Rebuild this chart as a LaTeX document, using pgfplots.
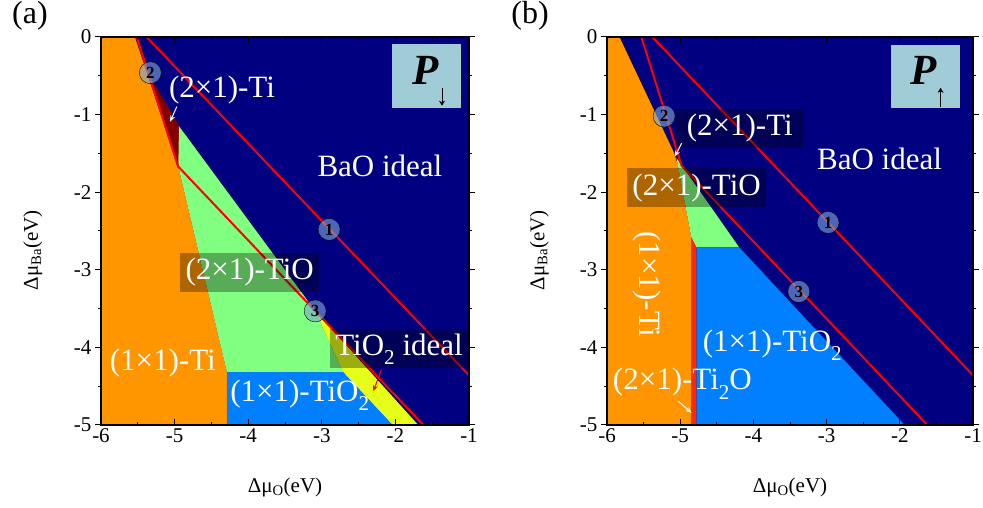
\documentclass[border=0pt]{standalone}
\usepackage{fontspec}
\setmainfont{Liberation Serif}
\usepackage{pgfplots}
\pgfplotsset{compat=1.18}
\usetikzlibrary{arrows.meta}
\definecolor{cnavy}{RGB}{0,0,128}
\definecolor{corange}{RGB}{255,150,0}
\definecolor{cgreen}{RGB}{128,255,128}
\definecolor{cblue}{RGB}{0,128,255}
\definecolor{cyellow}{RGB}{230,255,25}
\definecolor{cdred}{RGB}{128,0,0}
\definecolor{cred}{RGB}{255,0,0}
\definecolor{cstrip}{RGB}{255,40,0}
\definecolor{cbox}{RGB}{160,204,216}
\definecolor{ccirc}{RGB}{125,165,215}
\newcommand\sub[1]{\raisebox{-0.3em}{\scalebox{0.68}{#1}}}
\tikzset{
  lab/.style={text=white, font=\fontsize{31}{31}\selectfont, inner sep=0pt},
  boxlab/.style={text=white, font=\fontsize{31}{31}\selectfont, fill=black, fill opacity=0.32, text opacity=1, inner xsep=5pt, inner ysep=0pt, minimum height=39pt},
}
\pgfplotsset{
  phase/.style={
    scale only axis, height=388pt,
    xmin=-6, xmax=-1, ymin=-5, ymax=0,
    xtick={-6,-5,-4,-3,-2,-1}, ytick={-5,-4,-3,-2,-1,0},
    minor tick num=1,
    xtick align=inside, ytick align=outside,
    major tick length=6pt, minor tick length=3pt,
    tick style={black, line width=1pt},
    axis line style={black, line width=1.2pt},
    axis on top,
    /pgf/number format/assume math mode=true,
    ticklabel style={font=\fontsize{21}{21}\selectfont},
    label style={font=\fontsize{21}{21}\selectfont},
    xlabel={Δμ\textsubscript{O}(eV)},
    ylabel={Δμ\textsubscript{Ba}(eV)},
    xlabel style={at={(axis description cs:0.5,-0.16)}, anchor=center},
    ylabel style={at={(axis description cs:-0.185,0.45)}, anchor=center},
  },
  circ/.style={only marks, mark=*, mark size=11pt,
    mark options={draw=none, fill=ccirc, fill opacity=0.62},
    point meta=explicit symbolic,
    nodes near coords={\fontsize{17}{17}\selectfont\bfseries\pgfplotspointmeta},
    nodes near coords style={anchor=center, text=black, text opacity=1, inner sep=0pt}},
}
\begin{document}
\begin{tikzpicture}
\path[use as bounding box] (0,0) rectangle (983pt,508pt);
\node[font=\fontsize{32}{32}\selectfont] at (30pt,492pt) {(a)};
\node[font=\fontsize{32}{32}\selectfont] at (530pt,492pt) {(b)};
% ---------------- panel (a)
\begin{axis}[phase, width=368pt, at={(101pt,83pt)}, anchor=south west]
\addplot[fill=cnavy, draw=none] coordinates {(-6,0) (-1,0) (-1,-5) (-6,-5)};
\addplot[fill=corange, draw=none] coordinates {(-6,0) (-5.54,0) (-4.95,-1.67) (-4.29,-4.32) (-4.29,-5) (-6,-5)};
\addplot[fill=cdred, draw=none] coordinates {(-5.37,-0.46) (-4.94,-1.15) (-4.94,-1.68) (-4.96,-1.68)};
\addplot[fill=cgreen, draw=none] coordinates {(-4.94,-1.15) (-3.09,-3.53) (-2.71,-4.32) (-4.29,-4.32) (-4.95,-1.67)};
\addplot[fill=cyellow, draw=none] coordinates {(-3.09,-3.53) (-1.69,-5) (-2.04,-5) (-2.71,-4.32)};
\addplot[fill=cblue, draw=none] coordinates {(-4.29,-4.32) (-2.71,-4.32) (-2.04,-5) (-4.29,-5)};
\addplot[cred, line width=2pt] coordinates {(-5.515,0) (-4.95,-1.67) (-1.62,-5)};
\addplot[cred, line width=2pt] coordinates {(-5.38,0) (-1,-4.36)};
\addplot[circ] coordinates {(-2.90,-2.48)[1] (-5.33,-0.46)[2] (-3.09,-3.53)[3]};
\node[lab] at (axis cs:-4.356,-0.682) {(2×1)-Ti};
\node[lab] at (axis cs:-2.21,-1.66) {BaO ideal};
\node[boxlab, minimum width=139pt] at (axis cs:-3.98,-3.03) {(2×1)-TiO};
\node[lab] at (axis cs:-5.16,-4.20) {(1×1)-Ti};
\node[lab] at (axis cs:-3.30,-4.62) {(1×1)-TiO\sub{2}};
\node[boxlab, minimum width=138pt] at (axis cs:-1.95,-4.02) {TiO\sub{2} ideal};
\draw[white, line width=1pt, -{Stealth[length=6pt,width=5pt]}] (axis cs:-4.97,-0.897) -- (axis cs:-5.06,-1.09);
\draw[cred, line width=1pt, -{Stealth[length=6pt,width=5pt]}] (axis cs:-2.19,-4.285) -- (axis cs:-2.30,-4.565);
\node[fill=cbox, minimum width=69pt, minimum height=64pt, inner sep=0pt] at (axis cs:-1.577,-0.502) {};
\node[inner sep=0pt, font=\fontsize{43}{43}\selectfont\bfseries\itshape] at (axis cs:-1.584,-0.425) {P};
\draw[black, line width=0.8pt, -{Stealth[length=5pt,width=6pt]}] (axis cs:-1.367,-0.66) -- (axis cs:-1.367,-0.885);
\end{axis}
% ---------------- panel (b)
\begin{axis}[phase, width=366pt, at={(607pt,83pt)}, anchor=south west]
\addplot[fill=cnavy, draw=none] coordinates {(-6,0) (-1,0) (-1,-5) (-6,-5)};
\addplot[fill=corange, draw=none] coordinates {(-6,0) (-5.83,0) (-5.05,-1.56) (-4.85,-2.58) (-4.85,-5) (-6,-5)};
\addplot[fill=cdred, draw=none] coordinates {(-5.08,-1.50) (-4.99,-1.66) (-5.05,-1.60)};
\addplot[fill=cgreen, draw=none] coordinates {(-5.05,-1.56) (-4.195,-2.71) (-4.78,-2.71) (-4.85,-2.58)};
\addplot[fill=cstrip, draw=none] coordinates {(-4.85,-2.58) (-4.78,-2.71) (-4.78,-5) (-4.85,-5)};
\addplot[fill=cblue, draw=none] coordinates {(-4.78,-2.71) (-4.195,-2.71) (-1.935,-5) (-4.78,-5)};
\addplot[cred, line width=2pt] coordinates {(-5.53,0) (-4.98,-1.66) (-1.625,-5)};
\addplot[cred, line width=2pt] coordinates {(-5.38,0) (-1,-4.36)};
\addplot[circ] coordinates {(-2.98,-2.39)[1] (-5.22,-1.02)[2] (-3.38,-3.28)[3]};
\node[boxlab, minimum width=127pt] at (axis cs:-4.186,-1.178) {(2×1)-Ti};
\node[boxlab, minimum width=137pt] at (axis cs:-4.776,-1.943) {(2×1)-TiO};
\node[lab] at (axis cs:-2.276,-1.57) {BaO ideal};
\node[lab, rotate=-90] at (axis cs:-5.458,-3.19) {(1×1)-Ti};
\node[lab] at (axis cs:-3.742,-3.97) {(1×1)-TiO\sub{2}};
\node[lab] at (axis cs:-4.97,-4.47) {(2×1)-Ti\sub{2}O};
\draw[white, line width=1pt, -{Stealth[length=6pt,width=5pt]}] (axis cs:-4.98,-1.368) -- (axis cs:-5.072,-1.54);
\draw[white, line width=1pt, -{Stealth[length=6pt,width=5pt]}] (axis cs:-5.027,-4.694) -- (axis cs:-4.845,-4.843);
\node[fill=cbox, minimum width=69pt, minimum height=63pt, inner sep=0pt] at (axis cs:-1.645,-0.508) {};
\node[inner sep=0pt, font=\fontsize{43}{43}\selectfont\bfseries\itshape] at (axis cs:-1.668,-0.425) {P};
\draw[black, line width=0.8pt, -{Stealth[length=5pt,width=6pt]}] (axis cs:-1.443,-0.9) -- (axis cs:-1.443,-0.655);
\end{axis}
\end{tikzpicture}
\end{document}
